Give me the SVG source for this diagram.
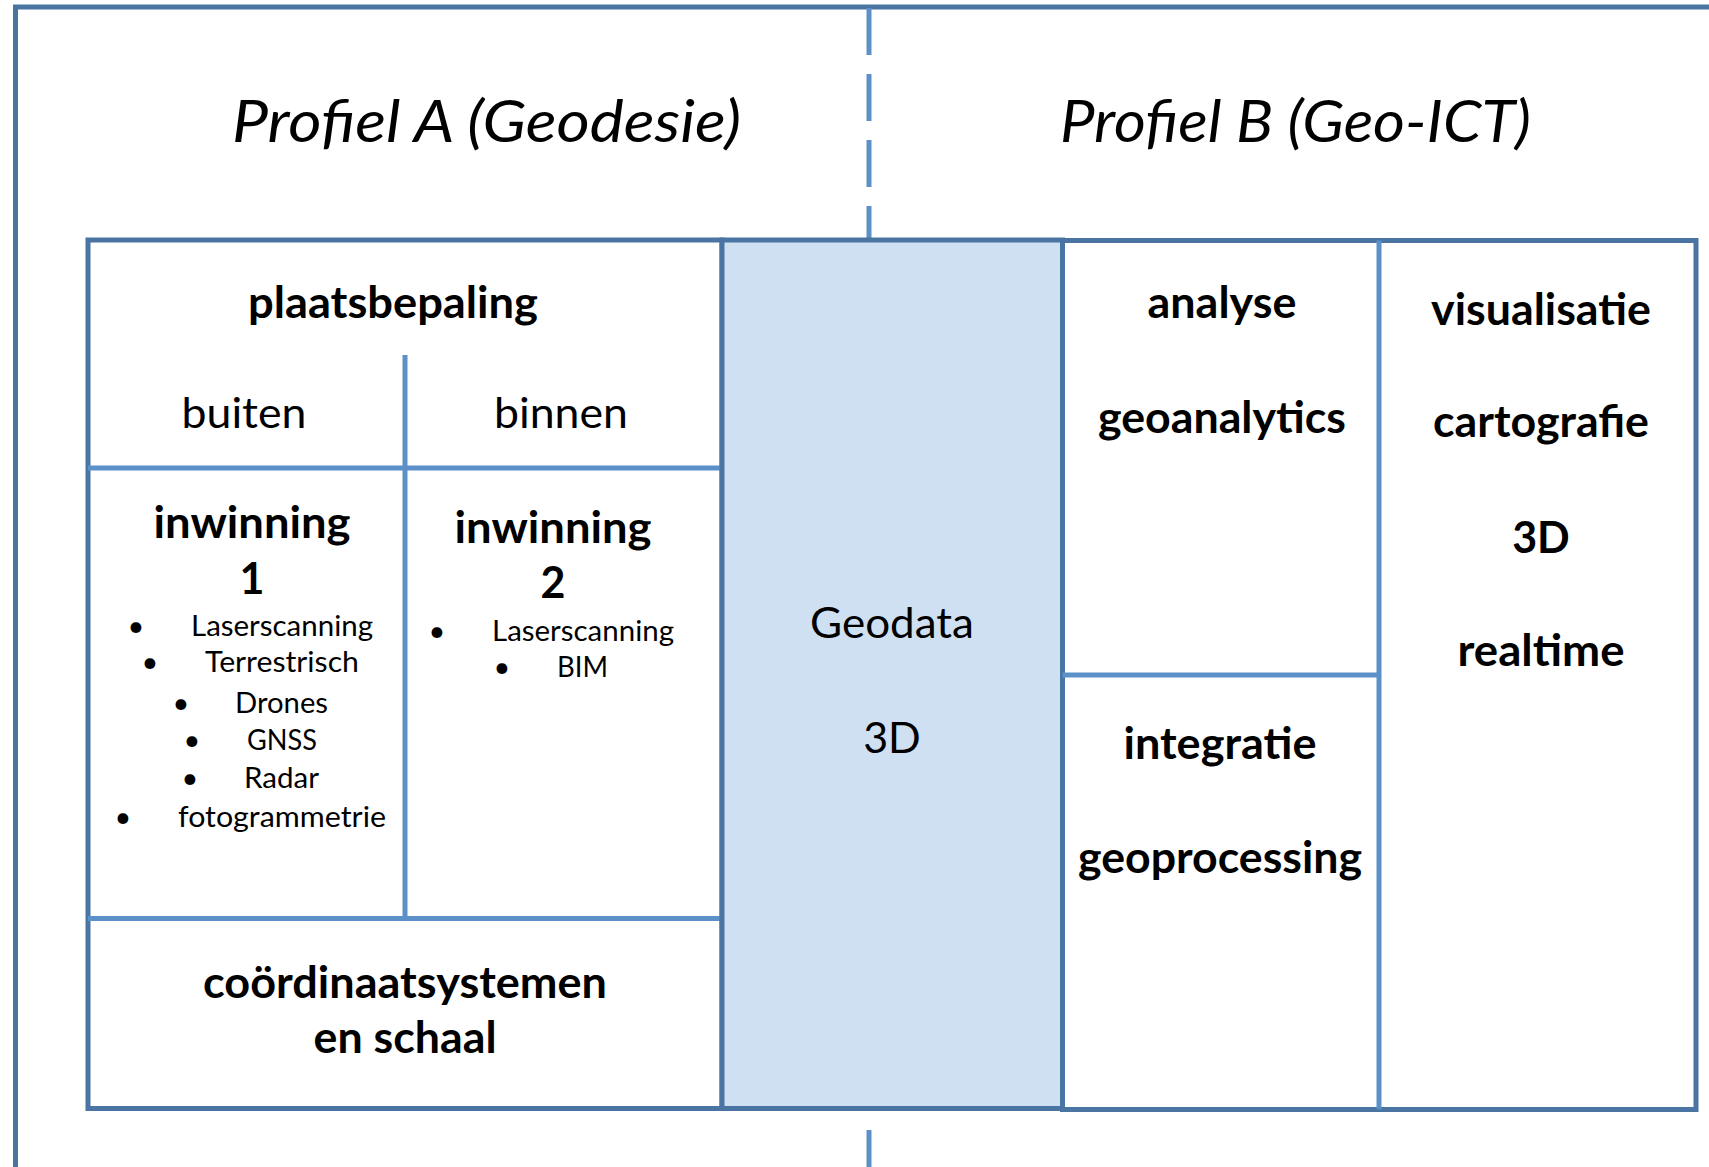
<svg xmlns="http://www.w3.org/2000/svg" width="1709" height="1167" viewBox="0 0 1709 1167">
<style>
.dk{fill:none;stroke:#4A74A1;stroke-width:5}
.lt{fill:none;stroke:#5C90C9;stroke-width:5}
.wf{fill:#fff}
.gf{fill:#CFE0F2}
text{font-family:Lato,"Open Sans","Liberation Sans",sans-serif;fill:#000;text-anchor:middle}
.t{font-size:58px;font-style:italic}
.b{font-size:43px;font-weight:bold}
.r{font-size:43px}
.s{font-size:29px}
</style>
<rect width="1709" height="1167" fill="#fff"/>
<g id="connectors">
<path class="dk" d="M15.5,1167 V7 H1709"/>
<path class="lt" d="M869,8 V1167" stroke-dasharray="47 19"/>
</g>
<g id="titles">
<text class="t" x="486.5" y="142" textLength="509" lengthAdjust="spacingAndGlyphs">Profiel A (Geodesie)</text>
<text class="t" x="1295.5" y="142" textLength="471" lengthAdjust="spacingAndGlyphs">Profiel B (Geo-ICT)</text>
</g>
<g id="profielA">
<rect class="dk wf" x="88" y="240" width="634" height="868.5"/>
<path class="lt" d="M88,468 H722 M405,355 V918.5 M88,918.5 H722"/>
</g>
<g id="plaatsbepaling">
<text class="b" x="393" y="318" textLength="290" lengthAdjust="spacingAndGlyphs">plaatsbepaling</text>
<text class="r" x="244" y="428" textLength="125" lengthAdjust="spacingAndGlyphs">buiten</text>
<text class="r" x="561" y="428" textLength="134" lengthAdjust="spacingAndGlyphs">binnen</text>
</g>
<g id="inwinning1">
<text class="b" x="252" y="538" textLength="197" lengthAdjust="spacingAndGlyphs">inwinning</text>
<text class="b" x="252" y="594">1</text>
<text class="s" x="136" y="636">•</text><text class="s" x="282" y="636" textLength="182" lengthAdjust="spacingAndGlyphs">Laserscanning</text>
<text class="s" x="150" y="672">•</text><text class="s" x="282" y="672" textLength="154" lengthAdjust="spacingAndGlyphs">Terrestrisch</text>
<text class="s" x="181" y="713">•</text><text class="s" x="281.5" y="713" textLength="93" lengthAdjust="spacingAndGlyphs">Drones</text>
<text class="s" x="192" y="750">•</text><text class="s" x="282" y="750" textLength="70" lengthAdjust="spacingAndGlyphs">GNSS</text>
<text class="s" x="190" y="788">•</text><text class="s" x="281.5" y="788" textLength="75" lengthAdjust="spacingAndGlyphs">Radar</text>
<text class="s" x="123" y="827">•</text><text class="s" x="282" y="827" textLength="208" lengthAdjust="spacingAndGlyphs">fotogrammetrie</text>
</g>
<g id="inwinning2">
<text class="b" x="553" y="543" textLength="197" lengthAdjust="spacingAndGlyphs">inwinning</text>
<text class="b" x="553" y="598">2</text>
<text class="s" x="437" y="641">•</text><text class="s" x="583" y="641" textLength="182" lengthAdjust="spacingAndGlyphs">Laserscanning</text>
<text class="s" x="502" y="677">•</text><text class="s" x="582.5" y="677" textLength="51" lengthAdjust="spacingAndGlyphs">BIM</text>
</g>
<g id="coordinaatsystemen">
<text class="b" x="405" y="998" textLength="404" lengthAdjust="spacingAndGlyphs">coördinaatsystemen</text>
<text class="b" x="405" y="1053" textLength="183" lengthAdjust="spacingAndGlyphs">en schaal</text>
</g>
<g id="geodata">
<rect class="dk gf" x="722" y="240" width="340.5" height="868.5"/>
<text class="r" x="892" y="638" textLength="164" lengthAdjust="spacingAndGlyphs">Geodata</text>
<text class="r" x="892" y="753">3D</text>
</g>
<g id="profielB">
<rect class="dk wf" x="1062.5" y="240.5" width="633.5" height="869"/>
<path class="lt" d="M1379,240.5 V1109.5 M1062.5,675 H1379"/>
</g>
<g id="analyse">
<text class="b" x="1222" y="318" textLength="149" lengthAdjust="spacingAndGlyphs">analyse</text>
<text class="b" x="1222" y="433" textLength="248" lengthAdjust="spacingAndGlyphs">geoanalytics</text>
</g>
<g id="integratie">
<text class="b" x="1220" y="759" textLength="193" lengthAdjust="spacingAndGlyphs">integratie</text>
<text class="b" x="1220" y="873" textLength="284" lengthAdjust="spacingAndGlyphs">geoprocessing</text>
</g>
<g id="visualisatie">
<text class="b" x="1541" y="325" textLength="220" lengthAdjust="spacingAndGlyphs">visualisatie</text>
<text class="b" x="1541" y="437" textLength="216" lengthAdjust="spacingAndGlyphs">cartografie</text>
<text class="b" x="1541" y="553">3D</text>
<text class="b" x="1541" y="666" textLength="167" lengthAdjust="spacingAndGlyphs">realtime</text>
</g>
</svg>
